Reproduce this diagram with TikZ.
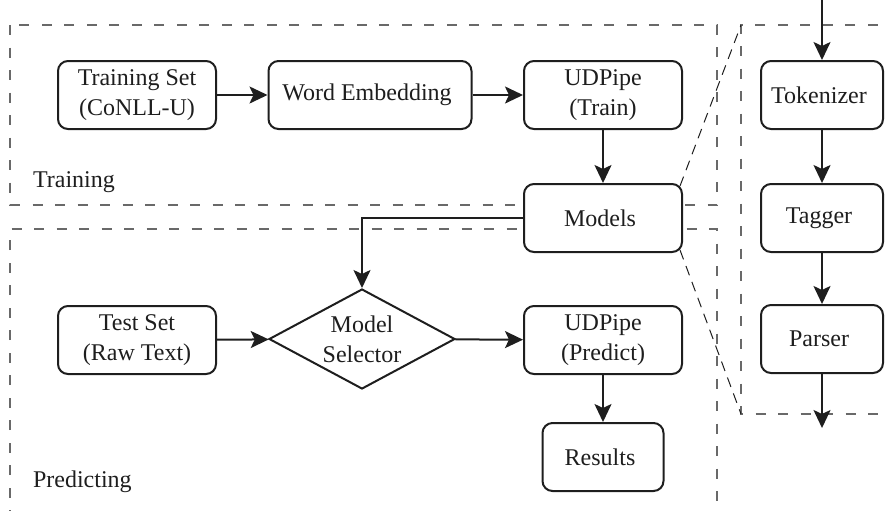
\documentclass[tikz,border=0pt]{standalone}
\usepackage{fontspec}
\setmainfont{Liberation Serif}
\usepackage{tikz}
\usetikzlibrary{shapes.geometric, arrows.meta}
\definecolor{ink}{RGB}{30, 30, 30}
\definecolor{frame}{RGB}{105, 105, 105}
\tikzset{
  every node/.style={font=\fontsize{12}{15}\selectfont, text=ink},
  block/.style={draw=ink, fill=white, rounded corners=5, line width=1, minimum width=79, minimum height=34, align=center, inner sep=2},
  choice/.style={diamond, draw=ink, fill=white, line width=1, aspect=1.86, minimum width=93, minimum height=50, inner sep=0, align=center},
  flow/.style={draw=ink, line width=1, -{Stealth[length=9pt, width=8.5pt, inset=2pt]}},
  stage/.style={draw=frame, line width=0.8, dash pattern=on 5pt off 6.25pt},
  zoomline/.style={draw=ink, line width=0.5, dash pattern=on 5pt off 3.5pt}
}

\begin{document}
\begin{tikzpicture}[x=0.5pt, y=-0.5pt]
  \useasboundingbox (0, 0) rectangle (887, 510);
  \clip (0, 0) rectangle (887, 510);

  \draw[stage] (10, 25) rectangle (717, 205);
  \node[anchor=west] (trainlbl) at (26, 182) { Training };

  \draw[stage] (10, 520) -- (10, 229) -- (717, 229) -- (717, 520);
  \node[anchor=west] (predlbl) at (26, 482) { Predicting };

  \draw[stage] (900, 25) -- (741, 25) -- (741, 414) -- (900, 414);
  \coordinate (ztop) at (741, 25);
  \coordinate (zbot) at (741, 414);

  \draw[zoomline] (680, 186) -- (ztop);
  \draw[zoomline] (680, 250) -- (zbot);

  % training
  \node[block] (trainset) at (137, 95) { Training Set\\(CoNLL-U) };
  \node[block, minimum width=101.5] (embed) at (370, 95) { Word Embedding };
  \node[block] (udtrain) at (603, 95) { UDPipe\\(Train) };
  \node[block] (models) at (603, 218) { Models };

  \draw[flow] (trainset) -- (embed);
  \draw[flow] (embed) -- (udtrain);
  \draw[flow] (udtrain) -- (models);

  % predicting
  \node[block] (testset) at (137, 340) { Test Set\\(Raw Text) };
  \node[choice] (select) at (362, 339) { Model\\Selector };
  \node[block] (udpred) at (603, 340) { UDPipe\\(Predict) };
  \node[block, minimum width=60.5] (results) at (603, 457) { Results };

  \draw[flow] (models.west) -| (select.north);
  \draw[flow] (testset) -- (select);
  \draw[flow] (select) -- (udpred);
  \draw[flow] (udpred) -- (results);

  % pipeline
  \node[block, minimum width=61] (tokenize) at (822, 95) { Tokenizer };
  \node[block, minimum width=61] (tagger) at (822, 218) { Tagger };
  \node[block, minimum width=61] (parser) at (822, 339) { Parser };
  \coordinate (pin) at (822, 0);
  \coordinate (pout) at (822, 428);

  \draw[flow] (pin) -- (tokenize);
  \draw[flow] (tokenize) -- (tagger);
  \draw[flow] (tagger) -- (parser);
  \draw[flow] (parser) -- (pout);

\end{tikzpicture}
\end{document}
